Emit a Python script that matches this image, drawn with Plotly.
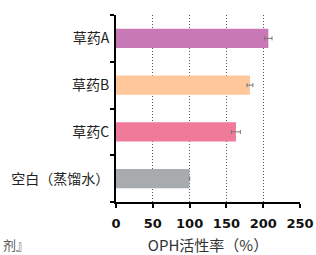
import plotly.graph_objects as go

categories = ["空白（蒸馏水）", "草药C", "草药B", "草药A"]
values = [100, 163, 182, 207]
errors = [0, 6, 4, 5]
colors = ["#A8ABAE", "#F07A9A", "#FFC79A", "#C878B4"]
x_ticks = [0, 50, 100, 150, 200, 250]

fig = go.Figure()
fig.add_trace(go.Bar(
    y=categories, x=values, orientation="h",
    marker=dict(color=colors, line=dict(width=0)),
    width=0.41,
    error_x=dict(type="data", array=errors, visible=True,
                 color="#777777", thickness=1, width=2),
))

fig.update_layout(
    width=316, height=255,
    margin=dict(l=116, r=16, t=15, b=53),
    paper_bgcolor="white", plot_bgcolor="white",
    showlegend=False,
    font=dict(family="Noto Sans CJK SC, Liberation Sans, sans-serif", color="#222222"),
)
fig.update_xaxes(
    range=[0, 250], tickvals=x_ticks, ticktext=[str(v) for v in x_ticks],
    showline=True, linecolor="black", linewidth=2,
    ticks="outside", ticklen=4, tickwidth=2, tickcolor="black",
    ticklabelstandoff=4,
    tickfont=dict(size=13, family="DejaVu Sans, sans-serif", weight="bold", color="#111111"),
    showgrid=True, gridcolor="#555555", griddash="1px,2px", gridwidth=1,
    zeroline=False, automargin=False,
    title=dict(text="OPH活性率（%）", font=dict(size=15, color="#333333"), standoff=12),
)
fig.update_yaxes(
    categoryorder="array", categoryarray=categories,
    range=[-0.5, 3.5],
    showline=True, linecolor="black", linewidth=2,
    ticks="outside", ticklen=4, tickwidth=2, tickcolor="black",
    tickson="boundaries", ticklabelstandoff=2,
    tickfont=dict(size=14, color="#222222"),
    showgrid=False, zeroline=False, automargin=False,
)
fig.add_annotation(
    text="剂』", xref="paper", yref="paper", x=-0.625, y=-0.225,
    xanchor="left", yanchor="middle", showarrow=False,
    font=dict(size=13, color="#555555"),
)
fig.write_html("out.html", config={"displayModeBar": False},
               post_script="document.body.style.margin='0';")
